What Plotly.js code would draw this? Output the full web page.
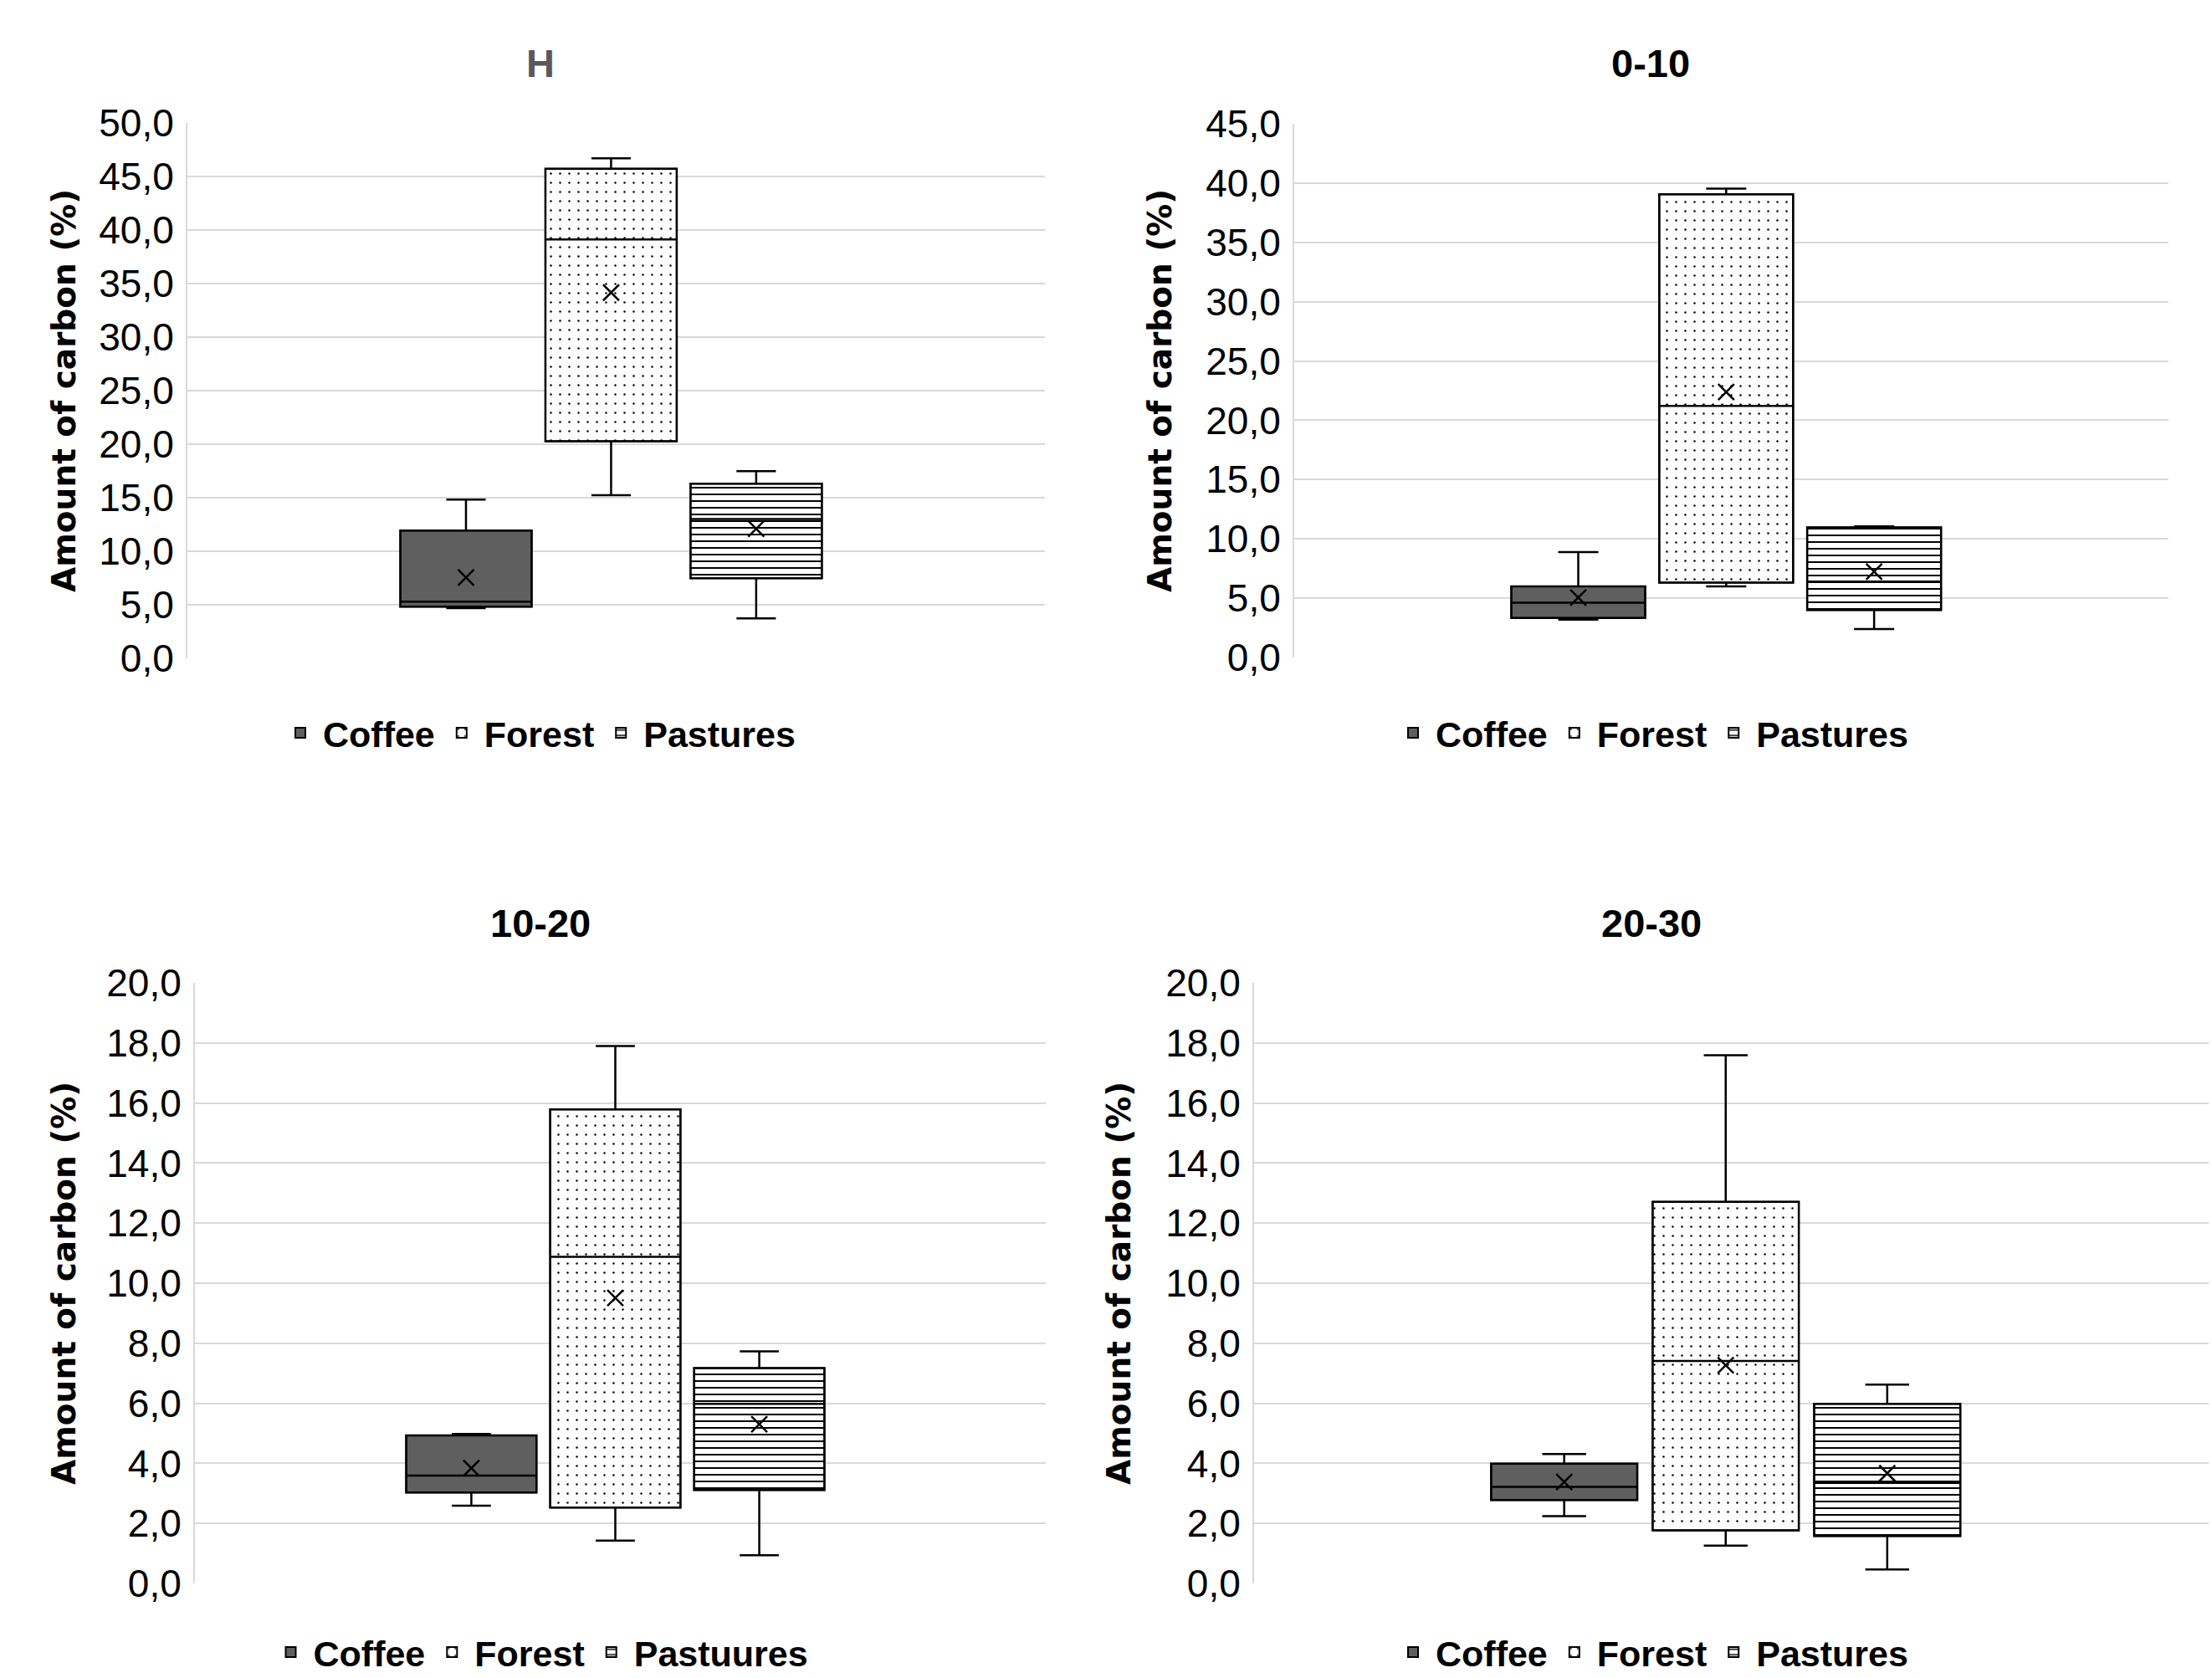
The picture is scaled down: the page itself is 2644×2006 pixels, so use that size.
<!DOCTYPE html>
<html><head><meta charset="utf-8">
<script src="https://cdn.plot.ly/plotly-3.0.1.min.js"></script>
<style>
html,body{margin:0;padding:0;background:#fff}
#chart{width:2644px;height:2006px}
</style>
</head><body><div id="chart"></div>
<script>
// ---------------- DATA ----------------
const CATEGORIES = ['Coffee', 'Forest', 'Pastures'];
const PANEL_TITLES = ['H', '0-10', '10-20', '20-30'];
const LEGEND_LABELS_STD = ['Coffee', 'Forest', 'Pastures'];
const LEGEND_LABELS_1020 = ['Coffee', 'Forest', 'Pastuures'];
const Y_AXIS_TITLE = 'Amount of carbon (%)';

// Panel H
const H_Q1     = [4.82, 20.28, 7.48];
const H_MEDIAN = [5.29, 39.12, 13.0];
const H_Q3     = [11.93, 45.72, 16.31];
const H_LOWER  = [4.68, 15.23, 3.74];
const H_UPPER  = [14.82, 46.7, 17.49];
const H_MEAN   = [7.55, 34.16, 12.1];

// Panel 0-10
const D010_Q1     = [3.34, 6.32, 4.01];
const D010_MEDIAN = [4.62, 21.21, 6.4];
const D010_Q3     = [6.00, 39.06, 10.97];
const D010_LOWER  = [3.19, 6.00, 2.40];
const D010_UPPER  = [8.89, 39.53, 11.06];
const D010_MEAN   = [5.06, 22.38, 7.23];

// Panel 10-20
const D1020_Q1     = [3.03, 2.53, 3.11];
const D1020_MEDIAN = [3.59, 10.88, 5.98];
const D1020_Q3     = [4.93, 15.79, 7.17];
const D1020_LOWER  = [2.59, 1.43, 0.94];
const D1020_UPPER  = [4.98, 17.9, 7.73];
const D1020_MEAN   = [3.84, 9.51, 5.30];

// Panel 20-30
const D2030_Q1     = [2.78, 1.77, 1.58];
const D2030_MEDIAN = [3.22, 7.41, 3.35];
const D2030_Q3     = [3.99, 12.71, 5.98];
const D2030_LOWER  = [2.24, 1.26, 0.47];
const D2030_UPPER  = [4.31, 17.59, 6.62];
const D2030_MEAN   = [3.38, 7.27, 3.67];

// Y axis ranges and tick steps per panel
const Y_MAX   = [50, 45, 20, 20];
const Y_DTICK = [5, 5, 2, 2];

// ---------------- STYLE / LAYOUT ----------------
const W = 2644, HGT = 2006;
const fx = v => v / W;
const fy = v => 1 - v / HGT;

const TICK_FONT = 'Liberation Sans, Arial, sans-serif';
const TITLE_FONT = 'Liberation Sans, Arial, sans-serif';
const YTITLE_FONT = 'DejaVu Sans, sans-serif';

const FILLS = ['#5f5f5f', '#ffffff', '#ffffff'];
const PATTERNS = [
  {shape: ''},
  {shape: '.', fgcolor: '#000', bgcolor: '#fff', size: 11, solidity: 0.04},
  {shape: '-', fgcolor: '#000', bgcolor: '#fff', size: 8, solidity: 0.25}
];
const BOX_W = 0.905;
const X_RANGE = [-1.92, 3.99];

const panels = [
  {stats: {q1: H_Q1, med: H_MEDIAN, q3: H_Q3, lo: H_LOWER, hi: H_UPPER, mean: H_MEAN},
   labels: LEGEND_LABELS_STD, titleColor: '#595959',
   xd: [224, 1249], yd: [147, 787], tx: 646, ty: 76, ytx: 76, lx: 644, ly: 876},
  {stats: {q1: D010_Q1, med: D010_MEDIAN, q3: D010_Q3, lo: D010_LOWER, hi: D010_UPPER, mean: D010_MEAN},
   labels: LEGEND_LABELS_STD, titleColor: '#000',
   xd: [1547, 2592], yd: [148, 786], tx: 1973, ty: 76, ytx: 1386, lx: 1974, ly: 876},
  {stats: {q1: D1020_Q1, med: D1020_MEDIAN, q3: D1020_Q3, lo: D1020_LOWER, hi: D1020_UPPER, mean: D1020_MEAN},
   labels: LEGEND_LABELS_1020, titleColor: '#000',
   xd: [233, 1250], yd: [1175, 1893], tx: 646, ty: 1103, ytx: 76, lx: 646, ly: 1975},
  {stats: {q1: D2030_Q1, med: D2030_MEDIAN, q3: D2030_Q3, lo: D2030_LOWER, hi: D2030_UPPER, mean: D2030_MEAN},
   labels: LEGEND_LABELS_STD, titleColor: '#000',
   xd: [1499, 2640], yd: [1175, 1893], tx: 1974, ty: 1103, ytx: 1337, lx: 1974, ly: 1975}
];

const traces = [];
const layout = {
  width: W, height: HGT,
  margin: {l: 0, r: 0, t: 0, b: 0, autoexpand: false},
  paper_bgcolor: '#fff', plot_bgcolor: '#fff',
  separators: ',.',
  barmode: 'overlay',
  boxmode: 'overlay',
  showlegend: true,
  annotations: []
};

panels.forEach((p, i) => {
  const sfx = i === 0 ? '' : String(i + 1);
  const xa = 'x' + sfx, ya = 'y' + sfx;
  const legId = 'legend' + sfx;
  const s = p.stats;

  layout['xaxis' + sfx] = {
    domain: [fx(p.xd[0]), fx(p.xd[1])],
    anchor: ya, type: 'category', categoryarray: CATEGORIES,
    range: X_RANGE, showticklabels: false, showgrid: false,
    zeroline: false, showline: false, ticks: '', fixedrange: true
  };
  layout['yaxis' + sfx] = {
    domain: [fy(p.yd[1]), fy(p.yd[0])],
    anchor: xa, range: [0, Y_MAX[i]], dtick: Y_DTICK[i], tick0: 0,
    tickformat: '.1f', showgrid: true, gridcolor: '#d9d9d9', gridwidth: 2,
    showline: true, linecolor: '#d9d9d9', linewidth: 2, zeroline: false,
    ticks: '', ticklabelstandoff: 5,
    tickfont: {family: TICK_FONT, size: 46, color: '#000'}, fixedrange: true
  };
  layout[legId] = {
    x: fx(p.lx), y: fy(p.ly), xanchor: 'center', yanchor: 'middle',
    orientation: 'h', bgcolor: 'rgba(0,0,0,0)', itemwidth: 44,
    font: {family: TITLE_FONT, size: 43, color: '#000', weight: 'bold'},
    traceorder: 'normal'
  };

  // patterned boxes (IQR) via bars, also provide legend entries
  CATEGORIES.forEach((c, j) => {
    traces.push({
      type: 'bar', x: [c], base: [s.q1[j]], y: [s.q3[j] - s.q1[j]],
      width: [BOX_W], xaxis: xa, yaxis: ya, name: p.labels[j], legend: legId,
      marker: {color: FILLS[j], line: {color: '#000', width: 2}, pattern: PATTERNS[j]},
      hoverinfo: 'skip'
    });
  });
  // box outlines, medians and whiskers
  CATEGORIES.forEach((c, j) => {
    traces.push({
      type: 'box', x: [c], q1: [s.q1[j]], median: [s.med[j]], q3: [s.q3[j]],
      lowerfence: [s.lo[j]], upperfence: [s.hi[j]],
      width: BOX_W, whiskerwidth: 0.3, boxpoints: false,
      line: {color: '#000', width: 2.5}, fillcolor: 'rgba(0,0,0,0)',
      xaxis: xa, yaxis: ya, showlegend: false, hoverinfo: 'skip'
    });
  });
  // means
  traces.push({
    type: 'scatter', mode: 'markers', x: CATEGORIES, y: s.mean,
    xaxis: xa, yaxis: ya, showlegend: false, hoverinfo: 'skip',
    marker: {symbol: 'x-thin', size: 19, color: '#000', line: {color: '#000', width: 2.5}}
  });

  layout.annotations.push({
    xref: 'paper', yref: 'paper', x: fx(p.tx), y: fy(p.ty),
    xanchor: 'center', yanchor: 'middle', showarrow: false,
    text: '<b>' + PANEL_TITLES[i] + '</b>',
    font: {family: TITLE_FONT, size: 47, color: p.titleColor}
  });
  layout.annotations.push({
    xref: 'paper', yref: 'paper', x: fx(p.ytx), y: (fy(p.yd[0]) + fy(p.yd[1])) / 2,
    xanchor: 'center', yanchor: 'middle', showarrow: false, textangle: -90,
    text: '<b>' + Y_AXIS_TITLE + '</b>',
    font: {family: YTITLE_FONT, size: 39, color: '#000'}
  });
});

Plotly.newPlot('chart', traces, layout, {displayModeBar: false, staticPlot: true});
</script></body></html>
